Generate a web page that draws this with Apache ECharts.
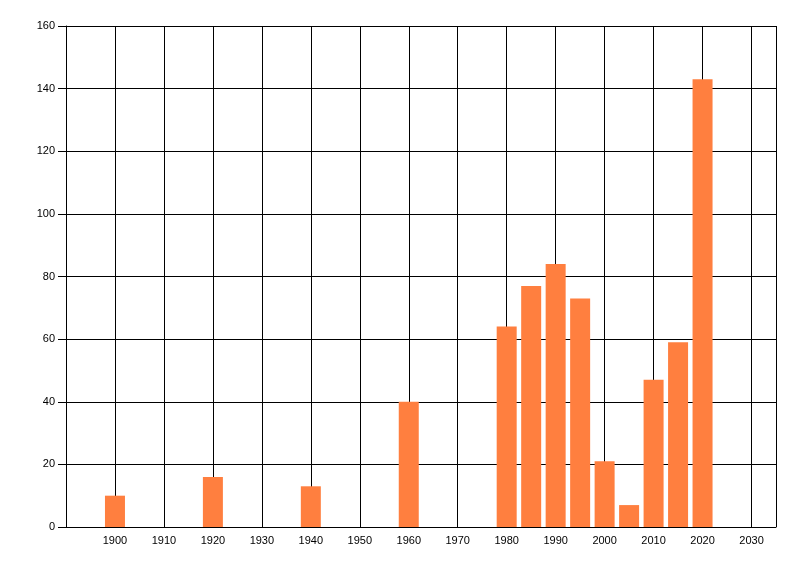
<!DOCTYPE html>
<html>
<head>
<meta charset="utf-8">
<script src="https://cdn.jsdelivr.net/npm/echarts@6/dist/echarts.min.js"></script>
<style>
  html, body { margin: 0; padding: 0; background: #fff; }
  #chart { width: 800px; height: 576px; }
</style>
</head>
<body>
<div id="chart"></div>
<script>
// years on the x value axis and the count for each bar
var years  = [1900, 1920, 1940, 1960, 1980, 1985, 1990, 1995, 2000, 2005, 2010, 2015, 2020];
var counts = [10,   16,   13,   40,   64,   77,   84,   73,   21,   7,    47,   59,   143];

var xMin = 1890, xMax = 2035, xStep = 10;
var yMin = 0, yMax = 160, yStep = 20;

var chart = echarts.init(document.getElementById('chart'));

var data = [];
for (var i = 0; i < years.length; i++) data.push([years[i], counts[i]]);

var labelFont = { fontFamily: 'Liberation Sans, DejaVu Sans, sans-serif', fontSize: 11, color: '#000' };

chart.setOption({
    animation: false,
    grid: { left: 66, right: 24, top: 26, bottom: 49 },
    xAxis: {
        type: 'value',
        min: xMin, max: xMax, interval: xStep,
        axisLine: { lineStyle: { color: '#000', width: 1 } },
        axisTick: { show: false },
        splitLine: { lineStyle: { color: '#000', width: 1 } },
        axisLabel: Object.assign({
            margin: 8,
            showMinLabel: false, showMaxLabel: false,
            formatter: function(v){ return (v % 10 === 0 && v > xMin) ? String(v) : ''; }
        }, labelFont)
    },
    yAxis: {
        type: 'value',
        min: yMin, max: yMax, interval: yStep,
        axisLine: { show: true, lineStyle: { color: '#000', width: 1 } },
        axisTick: { show: true, length: 8, lineStyle: { color: '#000' } },
        splitLine: { lineStyle: { color: '#000', width: 1 } },
        axisLabel: Object.assign({ margin: 11 }, labelFont)
    },
    series: [{
        type: 'bar',
        data: data,
        barWidth: 20,
        itemStyle: { color: '#ff7f3f' }
    }]
});
</script>
</body>
</html>
